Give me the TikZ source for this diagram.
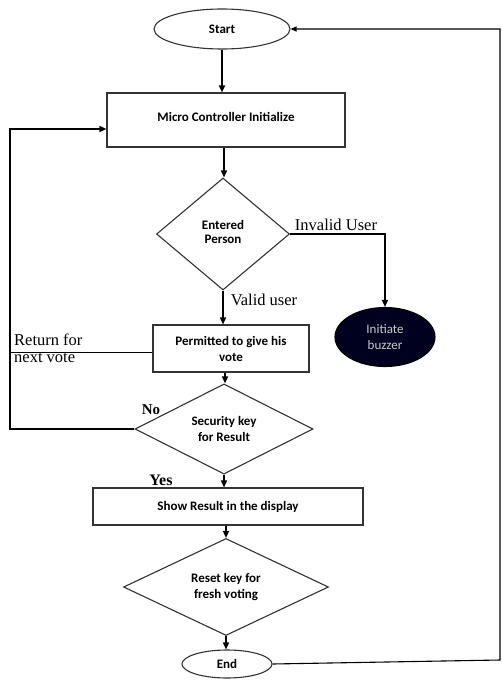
\documentclass[tikz,border=0pt]{standalone}
\usepackage{fontspec}
\setmainfont{Liberation Serif}
\newfontfamily\inner{Carlito}
\usetikzlibrary{shapes.geometric,arrows.meta,calc}
\begin{document}
\begin{tikzpicture}[x=1pt,y=-1pt,
  shapeline/.style={draw=black!80,line width=1.1pt},
  boxnode/.style={shapeline,rectangle,inner sep=0pt,align=center,font=\inner\bfseries\fontsize{13}{16}\selectfont},
  ellnode/.style={shapeline,ellipse,inner sep=0pt,align=center,font=\inner\bfseries\fontsize{13}{16}\selectfont},
  dianode/.style={shapeline,diamond,inner sep=0pt,align=center,font=\inner\bfseries\fontsize{13}{16}\selectfont},
  conn/.style={draw=black,line width=1.5pt},
  arr/.style={conn,-{Triangle[length=7pt,width=6pt]}},
  lbl/.style={font=\fontsize{16.5}{17}\selectfont,inner sep=0pt}
]
\useasboundingbox (0,0) rectangle (502,680);
\fill[white] (0,0) rectangle (502,680);

\node[ellnode,minimum width=136,minimum height=40] (start) at (222,29) {Start};
\node[boxnode,minimum width=238,minimum height=54] (micro) at (226,120) {\raisebox{6pt}{Micro Controller Initialize}};
\node[dianode,minimum width=133,minimum height=112] (entered) at (223,234) {\raisebox{4pt}{\shortstack{Entered\\[2pt]Person}}};
\node[ellnode,fill=black!88!blue,draw=black,minimum width=100,minimum height=59,text=black!20,font=\inner\fontsize{13}{16}\selectfont] (buzzer) at (385,337) {Initiate\\buzzer};
\node[boxnode,minimum width=156,minimum height=47] (permitted) at (231,348.5) {Permitted to give his\\vote};
\node[dianode,minimum width=178,minimum height=78] (security) at (224,429) {Security key\\for Result};
\node[boxnode,minimum width=270,minimum height=37] (show) at (228,506.5) {\raisebox{2pt}{Show Result in the display}};
\node[dianode,minimum width=205,minimum height=87] (reset) at (226,587) {Reset key for\\fresh voting};
\node[ellnode,minimum width=90,minimum height=28] (end) at (227,664) {End};

\coordinate (loopb) at (10,429);
\coordinate (rc1) at (500,660);
\coordinate (rc2) at (500,29);
\coordinate (mout) at ($(micro.south)+(-2,0)$);
\coordinate (pout) at ($(permitted.south)+(-6,0)$);
\coordinate (pleft) at ($(permitted.west)+(0,4)$);
\coordinate (sout) at ($(show.south)+(-2,0)$);
\coordinate (mback) at ($(micro.west)+(0,9)$);

\draw[arr] (start.south) -- (start.south|-micro.north);
\draw[arr] (mout) -- (mout|-entered.north);
\draw[arr] (entered.east) -| (buzzer.north);
\draw[arr] (entered.south) -- (entered.south|-permitted.north);
\draw[conn] (pleft) -- (pleft-|loopb);
\draw[arr] (pout) -- (pout|-security.north);
\draw[arr] (security.west) -- (loopb) |- (mback);
\draw[arr] (security.south) -- (security.south|-show.north);
\draw[arr] (sout) -- (sout|-reset.north);
\draw[arr] (reset.south) -- (reset.south|-end.north);
\draw[draw=black,line width=1.1pt,-{Triangle[length=6pt,width=5pt]}] (end.east) -- (rc1) -- (rc2) -- (start.east);

\node[lbl] (linv) at (336,225) {Invalid User};
\node[lbl] (lval) at (264,300) {Valid user};
\node[lbl,align=left,anchor=west] (lret) at (14,348) {Return for\\next vote};
\node[lbl,font=\bfseries\fontsize{15}{17}\selectfont] (lno) at (151,410) {No};
\node[lbl,font=\bfseries\fontsize{16}{17}\selectfont] (lyes) at (161,480) {Yes};
\end{tikzpicture}
\end{document}
